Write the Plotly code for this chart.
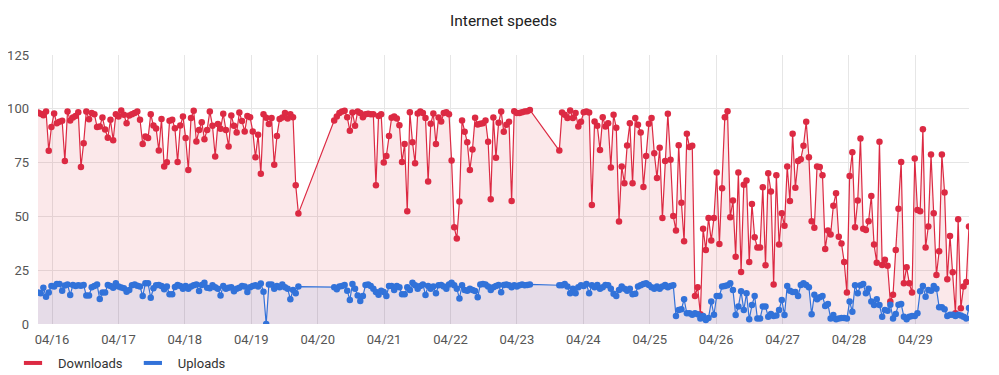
import pandas as pd
import plotly.graph_objects as go

# Segment boundaries (measurement periods)
seg_a = ("2024-04-15 18:56", "2024-04-19 17:02")
seg_b = ("2024-04-20 05:58", "2024-04-23 04:41")
seg_c = ("2024-04-23 15:19", "2024-04-29 19:22")

down_a = [98.3, 97.7, 97, 98.8, 80.5, 91.6, 97.8, 93.3, 94, 94.4, 75.8, 98.8, 94.6, 96, 96.7, 98.4, 73, 84,
          98.8, 95.2, 98, 97.5, 91.6, 91.8, 96, 90.4, 86.5, 94.9, 85.4, 97.5, 96.4, 99.2, 97.2, 93.3, 96.9,
          97.5, 98.1, 98.8, 94.9, 83.7, 87.1, 86.4, 97.5, 92.2, 90.9, 80.6, 95.3, 73.2, 75.2, 94.4, 94.9, 91,
          75.3, 92.2, 96.4, 86.4, 71.6, 95.7, 99.1, 84.8, 90.2, 93.8, 85.9, 90.2, 98.8, 92.1, 77.8, 92.9, 90.7,
          97.7, 90.2, 82.5, 96.9, 92.1, 89, 98.3, 94.3, 89.5, 96.7, 96.1, 89.5, 77.5, 87.9, 69.8, 97.5, 95.8,
          92.9, 95.7, 74, 87.4, 95.3, 96, 98, 95.5, 97.5, 96.1, 64.5, 51.4]
up_a = [14.6, 14.3, 16.9, 12.7, 14.6, 17.7, 17.4, 18.6, 18.6, 15.5, 17.9, 18.4, 13.5, 18.1, 17.7, 18, 17.8,
        18.1, 13.2, 13.2, 17.1, 17.7, 18.4, 11.6, 14.6, 14.6, 18.1, 17.7, 16.9, 18.9, 17.4, 17.0, 16.6, 15,
        15.8, 18, 18.4, 17.8, 17.4, 13, 18.9, 18.9, 12.2, 16.6, 18, 18.1, 17.7, 16.1, 17.4, 13.8, 13.8, 17.2,
        18.1, 17.7, 16.4, 17.7, 16.4, 17.4, 18, 18.4, 15.3, 18.1, 19.2, 16.9, 16.6, 18, 17.1, 16.4, 13.3,
        17.7, 16.4, 16.8, 17.1, 15.2, 16.4, 16.9, 17.7, 17.4, 14.9, 17.1, 17.7, 18, 17.4, 18.8, 15, 0, 18.4,
        18.4, 16.4, 17.7, 17.1, 18.4, 17.1, 16.4, 11.5, 15.8, 14.3, 17.4]

down_b = [94.6, 96.4, 98, 98.8, 99.1, 96.1, 89.8, 98.3, 92.1, 98.8, 98, 96.1, 97.5, 97.7, 97.5, 97.5, 64.5,
          96.7, 97.5, 75, 78.1, 87.4, 95.8, 96.4, 95.5, 92.4, 75.3, 83.7, 52.4, 98.4, 84.5, 74.7, 97.8, 98.8,
          98, 95.7, 66.2, 93, 97.8, 83.6, 96, 94.1, 98, 98.4, 97.5, 76, 45, 39.7, 56.9, 94.6, 89.3, 84.5, 71.6,
          81.1, 95.8, 92.7, 93, 93.3, 94.6, 84.7, 58, 96, 77.2, 93.5, 98.8, 89.3, 92.6, 94, 57.2, 98.9, 98, 98,
          98.4, 98.8, 98.9, 99.5]
up_b = [17.1, 16.1, 17.4, 17.7, 18.1, 15.5, 11.2, 18.6, 16.4, 13.3, 10.7, 13, 18.1, 18.4, 17.7, 16.4, 14.9,
        13.6, 15.5, 14.9, 13, 17.7, 17.7, 15.8, 17.7, 17.1, 13.8, 13.8, 17.1, 15.8, 19.2, 18, 16.4, 17.7, 18.4,
        13.5, 17.7, 16.4, 17.4, 14.3, 18, 18.1, 17.4, 16.4, 18.4, 19.2, 18, 16.4, 11.9, 18, 15.8, 15.5, 16.4,
        15.8, 15.3, 12.4, 18.4, 18.6, 18.4, 17.4, 15.8, 17.1, 17.7, 18.1, 14.7, 18.1, 18.4, 18, 17.1, 18, 17.4,
        18, 18.4, 18, 18.1, 18.4]

down_c = [80.6, 98.3, 97.2, 95.7, 99.2, 95.7, 98, 91.8, 94, 98.4, 98.8, 98.3, 55.3, 94.1, 92.1, 80.9, 96.1,
          91.8, 93.3, 72.7, 97.2, 91.2, 47.6, 73.2, 65.4, 82.9, 93.3, 65.4, 95.7, 92.6, 89, 63.7, 78.1, 93,
          95.7, 79.4, 67.9, 81.9, 49.3, 75.8, 97.7, 76.3, 50.2, 43.4, 83.1, 56.4, 38.4, 88.4, 82.2, 82.8, 13,
          17.1, 4.5, 44.3, 34.4, 49.3, 38.8, 49.3, 70.4, 37.2, 63.1, 96.1, 98.9, 49.6, 57.4, 31.3, 70.4, 24.2,
          64.7, 66.7, 28.8, 55.8, 40.3, 35.5, 35.5, 63.6, 27.3, 70.1, 61.6, 18.4, 69.1, 36.9, 51.5, 45.6, 73.2,
          57.1, 88.4, 63.3, 75.8, 76.6, 82.8, 94, 77.5, 47.8, 44.7, 73.2, 72.9, 69.1, 34.9, 43.4, 41.6, 55,
          60.8, 40.5, 37.4, 28.8, 14.6, 68.8, 79.8, 45, 57.4, 86.2, 44.3, 43.7, 47.8, 59.5, 36.9, 28.5, 84.7,
          27.4, 29.8, 27.1, 10.4, 13.6, 34.4, 53.6, 75.3, 18.9, 26.4, 18.9, 14.6, 76.9, 53, 52.4, 90.5, 35.5,
          45.3, 78.8, 51.5, 22.8, 33.8, 78.8, 61.1, 20.8, 40.9, 24, 5, 48.7, 7.3, 17.4, 19.5, 45.3]
up_c = [18, 18, 18.6, 17.4, 14.3, 16.4, 14.3, 17.1, 18, 17.7, 18.6, 14.3, 18, 17.1, 18.1, 16.4, 17.1, 18.1,
        18, 16.4, 14, 13, 15.8, 17.4, 16.4, 15.5, 16.4, 13.8, 14, 17.4, 18, 18.6, 18.9, 18.1, 17.1, 16.4,
        17.4, 16.4, 17.4, 18.1, 17.1, 17.7, 18,
        3.7, 6.5, 6.8, 11.5, 5, 5, 4.3, 5, 4.5, 2.5, 3.7, 1.9, 2.8, 10.4, 4.3, 13, 13, 17.4, 17.7, 18, 18.9,
        15.8, 4.2, 8.1, 15.2, 6.5, 14.3, 2.2, 8.8, 13, 2.6, 2.6, 8.1, 8.1, 3.4, 4.7, 3.7, 4, 6.5, 11.2, 4.2,
        17.7, 15.5, 14.9, 14.9, 13, 18.1, 18.9, 18.1, 17.1, 4.5, 13.6, 11.5, 12.4, 13, 8.4, 9.3, 2.6, 4.2,
        2.2, 2.5, 2.8, 2.8, 2.5, 10.5, 5.7, 18, 14.3, 18, 18.6, 14.3, 16.4, 10.4, 8.8, 11.5, 8.8, 3.4, 6.5,
        6.2, 9, 2.6, 4.7, 9, 9.3, 3.4, 2.2, 3.4, 3.7, 3.7, 5, 15.2, 17.7, 12.7, 15.8, 15.5, 17.7, 16.4, 7.8,
        7.8, 6.8, 3.7, 4.3, 4.3, 3.7, 4.3, 4, 3.4, 2.6, 7.4]

y_ticks = [0, 25, 50, 75, 100, 125]

RED = "#dc2a43"
BLUE = "#3272d9"


def seg_times(seg, n):
    return list(pd.date_range(seg[0], seg[1], periods=n))


n_a = min(len(down_a), len(up_a))
n_b = min(len(down_b), len(up_b))
n_c = min(len(down_c), len(up_c))
times = seg_times(seg_a, n_a) + seg_times(seg_b, n_b) + seg_times(seg_c, n_c)
downloads = down_a[:n_a] + down_b[:n_b] + down_c[:n_c]
uploads = up_a[:n_a] + up_b[:n_b] + up_c[:n_c]

fig = go.Figure()
fig.add_trace(go.Scatter(
    x=times, y=downloads, mode="lines+markers", name="Downloads", showlegend=False,
    line=dict(color=RED, width=1.2), marker=dict(color=RED, size=6.5),
    fill="tozeroy", fillcolor="rgba(220,42,67,0.11)",
))
fig.add_trace(go.Scatter(
    x=times, y=uploads, mode="lines+markers", name="Uploads", showlegend=False,
    line=dict(color=BLUE, width=1.2), marker=dict(color=BLUE, size=6.5),
    fill="tozeroy", fillcolor="rgba(50,114,217,0.10)",
))
# legend entries (short thick dashes)
for nm, col in (("Downloads", RED), ("Uploads", BLUE)):
    fig.add_trace(go.Scatter(x=[None], y=[None], mode="markers", name=nm,
                             marker=dict(symbol="line-ew", size=13, color=col,
                                         line=dict(color=col, width=4))))

# page body has an 8px offset; figure is sized to fit the window
W, H = 991, 367
L, R, T, B = 30, 30, 47, 51
pw, ph = W - L - R, H - T - B

fig.update_layout(
    width=W, height=H,
    margin=dict(l=L, r=R, t=T, b=B, autoexpand=False),
    paper_bgcolor="white", plot_bgcolor="white",
    font=dict(family="Roboto, sans-serif", size=13, color="#555555"),
    title=dict(text="Internet speeds", x=0.5, xanchor="center", y=1 - 13 / H, yanchor="middle",
               font=dict(size=15.5, color="#212121")),
    legend=dict(orientation="h", xref="container", yref="container", x=-0.003, xanchor="left",
                y=1 - 355 / H, yanchor="middle", font=dict(size=13, color="#333333"),
                itemwidth=40, tracegroupgap=0),
    shapes=[dict(type="line", xref="paper", yref="paper",
                 x0=(989 - L) / pw, x1=(989 - L) / pw, y0=-1, y1=(T + ph) / ph,
                 line=dict(color="#e3e3e3", width=1))],
)
fig.update_xaxes(
    range=[times[0], times[-1]], tickformat="%m/%d", dtick=86400000, tick0="2024-04-16",
    showgrid=True, gridcolor="#e6e6e6", gridwidth=1, zeroline=False, showline=False,
    ticks="", ticklabelstandoff=6, tickfont=dict(size=13, color="#555555"), automargin=False,
)
fig.update_yaxes(
    range=[0, 125], tickvals=y_ticks, showgrid=True, gridcolor="#e6e6e6", gridwidth=1,
    zeroline=False, showline=False, ticks="", ticklabelstandoff=8,
    tickfont=dict(size=13, color="#555555"), automargin=False,
)

fig.write_html("out.html")
